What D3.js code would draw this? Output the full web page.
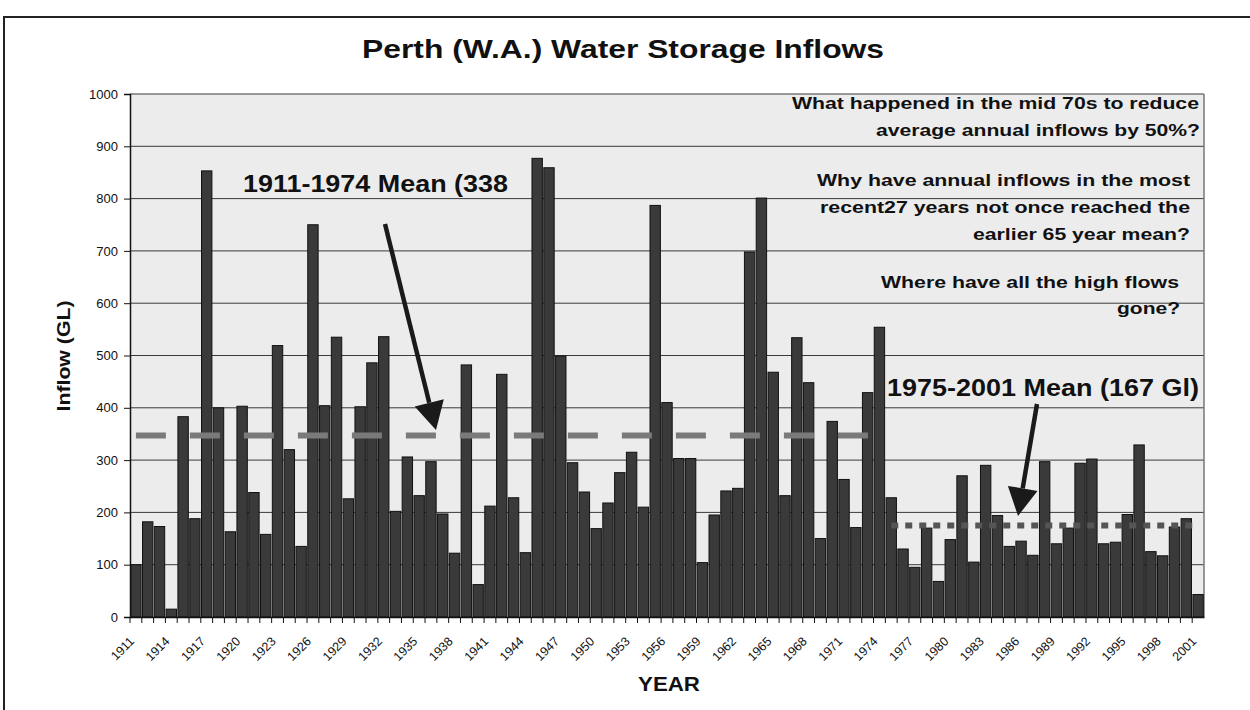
<!DOCTYPE html>
<html>
<head>
<meta charset="utf-8">
<script src="https://cdn.jsdelivr.net/npm/d3@7"></script>
<style>
  html, body { margin: 0; padding: 0; background: #ffffff; }
  svg { display: block; }
  text { font-family: "Liberation Sans", Arial, sans-serif; }
</style>
</head>
<body>
<svg id="chart" width="1250" height="710"></svg>
<script>
// ---------------- DATA ----------------
const years = ["1911","1912","1913","1914","1915","1916","1917","1918","1919","1920",
  "1921","1922","1923","1924","1925","1926","1927","1928","1929","1930",
  "1931","1932","1933","1934","1935","1936","1937","1938","1939","1940",
  "1941","1942","1943","1944","1945","1946","1947","1948","1949","1950",
  "1951","1952","1953","1954","1955","1956","1957","1958","1959","1960",
  "1961","1962","1963","1964","1965","1966","1967","1968","1969","1970",
  "1971","1972","1973","1974","1975","1976","1977","1978","1979","1980",
  "1981","1982","1983","1984","1985","1986","1987","1988","1989","1990",
  "1991","1992","1993","1994","1995","1996","1997","1998","1999","2000","2001"];

const inflows = [100,182,173,15,383,188,853,400,163,403,
  238,158,519,320,135,750,404,535,226,402,
  486,536,202,306,232,297,197,122,482,62,
  212,464,228,123,877,859,499,295,239,169,
  218,276,315,210,787,410,303,303,104,195,
  241,246,698,801,468,232,534,448,150,374,
  263,171,429,554,228,130,95,170,68,148,
  270,105,290,194,135,145,118,297,140,170,
  294,302,140,143,196,329,125,117,172,188,43];

const xTickLabels = ["1911","1914","1917","1920","1923","1926","1929","1932","1935","1938",
  "1941","1944","1947","1950","1953","1956","1959","1962","1965","1968","1971","1974",
  "1977","1980","1983","1986","1989","1992","1995","1998","2001"];

const yTicks = [0,100,200,300,400,500,600,700,800,900,1000];

// mean lines (as drawn)
const meanFrom  = ["1911","1975"];
const meanTo    = ["1974","2001"];
const meanValue = [347,175];

const titleText = "Perth (W.A.) Water Storage Inflows";
const yTitle = "Inflow (GL)";
const xTitle = "YEAR";
const questionLines = [
  "What happened in the mid 70s to reduce",
  "average annual inflows by 50%?",
  "Why have annual inflows in the most",
  "recent27 years not once reached the",
  "earlier 65 year mean?",
  "Where have all the high flows",
  "gone?"
];
const meanLabels = ["1911-1974 Mean (338", "1975-2001 Mean (167 Gl)"];

// ---------------- LAYOUT ----------------
const svg = d3.select("#chart");
const L = 130, R = 1204, T = 94, B = 617;

const x = d3.scaleBand().domain(years).range([L, R]).paddingInner(0.12).paddingOuter(0.06);
const y = d3.scaleLinear().domain([0, 1000]).range([B, T]);

// outer frame
svg.append("path")
  .attr("d", "M4,710 V17 H1250")
  .attr("fill", "none").attr("stroke", "#222").attr("stroke-width", 2);

// plot background
svg.append("rect")
  .attr("x", L).attr("y", T).attr("width", R - L).attr("height", B - T)
  .attr("fill", "#ececec");

// gridlines
svg.append("g").selectAll("line").data(yTicks.filter(d => d > 0)).join("line")
  .attr("x1", L).attr("x2", R)
  .attr("y1", d => y(d)).attr("y2", d => y(d))
  .attr("stroke", "#3a3a3a").attr("stroke-width", 1);

// right border
svg.append("line").attr("x1", R).attr("x2", R).attr("y1", T).attr("y2", B)
  .attr("stroke", "#777").attr("stroke-width", 1.5);

// bars
svg.append("g").selectAll("rect").data(inflows).join("rect")
  .attr("x", (d, i) => x(years[i]))
  .attr("width", x.bandwidth())
  .attr("y", d => y(d))
  .attr("height", d => y(0) - y(d))
  .attr("fill", "#3a3a3a")
  .attr("stroke", "#111")
  .attr("stroke-width", 1);

// mean lines
const meanStyles = [
  {dash: "30,24", width: 6, color: "#7a7a7a"},
  {dash: "7,7", width: 6, color: "#555"}
];
meanValue.forEach((v, k) => {
  svg.append("line")
    .attr("x1", x(meanFrom[k]) + x.bandwidth() / 2)
    .attr("x2", x(meanTo[k]) + x.bandwidth() / 2)
    .attr("y1", y(v)).attr("y2", y(v))
    .attr("stroke", meanStyles[k].color)
    .attr("stroke-width", meanStyles[k].width)
    .attr("stroke-dasharray", meanStyles[k].dash);
});

// y axis
const yAxisG = svg.append("g").attr("transform", `translate(${L},0)`)
  .call(d3.axisLeft(y).tickValues(yTicks).tickSize(6).tickPadding(6).tickFormat(d3.format("d")));
yAxisG.select(".domain").attr("stroke", "#111").attr("stroke-width", 1.5);
yAxisG.selectAll(".tick line").attr("stroke", "#111");
yAxisG.selectAll("text").attr("font-size", 13).attr("fill", "#111")
  .style("font-family", "'Liberation Sans', Arial, sans-serif");

// x axis
const xAxisG = svg.append("g").attr("transform", `translate(0,${B})`)
  .call(d3.axisBottom(x).tickValues(xTickLabels).tickSize(0).tickPadding(0));
xAxisG.select(".domain").attr("stroke", "#111").attr("stroke-width", 1.5);
xAxisG.selectAll("text")
  .attr("x", 0).attr("y", 0).attr("dy", "0.35em")
  .attr("transform", "translate(-4,22) rotate(-45)")
  .style("text-anchor", "end")
  .attr("font-size", 12.5).attr("fill", "#111")
  .style("font-family", "'Liberation Sans', Arial, sans-serif");
// band boundary ticks
const gapHalf = (x.step() - x.bandwidth()) / 2;
svg.append("g").selectAll("line").data(years).join("line")
  .attr("x1", d => x(d) - gapHalf).attr("x2", d => x(d) - gapHalf)
  .attr("y1", B).attr("y2", B + 6)
  .attr("stroke", "#111");

// title
function stretchedText(str, xLeft, yBase, size, len, weight) {
  return svg.append("text")
    .attr("x", xLeft).attr("y", yBase)
    .attr("font-size", size).attr("font-weight", weight || "bold")
    .attr("fill", "#111")
    .attr("textLength", len).attr("lengthAdjust", "spacingAndGlyphs")
    .text(str);
}
stretchedText(titleText, 362, 58, 25, 522);

// question annotations
const qPos = [
  [792, 109, 407], [876, 136, 324],
  [817, 186, 373], [820, 213, 370], [973, 240, 217],
  [881, 288, 298], [1117, 314, 63]
];
questionLines.forEach((s, i) => stretchedText(s, qPos[i][0], qPos[i][1], 16, qPos[i][2]));

// mean labels
stretchedText(meanLabels[0], 243, 192, 23, 265);
stretchedText(meanLabels[1], 887, 396, 23, 312);

// arrows
function arrow(x1, y1, x2, y2) {
  const ang = Math.atan2(y2 - y1, x2 - x1);
  const hl = 28, hw = 15;
  const bx = x2 - hl * Math.cos(ang), by = y2 - hl * Math.sin(ang);
  svg.append("line").attr("x1", x1).attr("y1", y1).attr("x2", bx).attr("y2", by)
    .attr("stroke", "#1a1a1a").attr("stroke-width", 4.5);
  const px = -Math.sin(ang), py = Math.cos(ang);
  svg.append("path")
    .attr("d", `M${x2},${y2} L${bx + px * hw},${by + py * hw} L${bx - px * hw},${by - py * hw} Z`)
    .attr("fill", "#1a1a1a");
}
arrow(385, 224, 436, 430);
arrow(1037, 404, 1018, 516);

// axis titles
svg.append("text")
  .attr("transform", "translate(70,356) rotate(-90)")
  .attr("text-anchor", "middle")
  .attr("font-size", 18).attr("font-weight", "bold").attr("fill", "#111")
  .attr("textLength", 111).attr("lengthAdjust", "spacingAndGlyphs")
  .text(yTitle);
stretchedText(xTitle, 638, 691, 20, 62);
</script>
</body>
</html>
